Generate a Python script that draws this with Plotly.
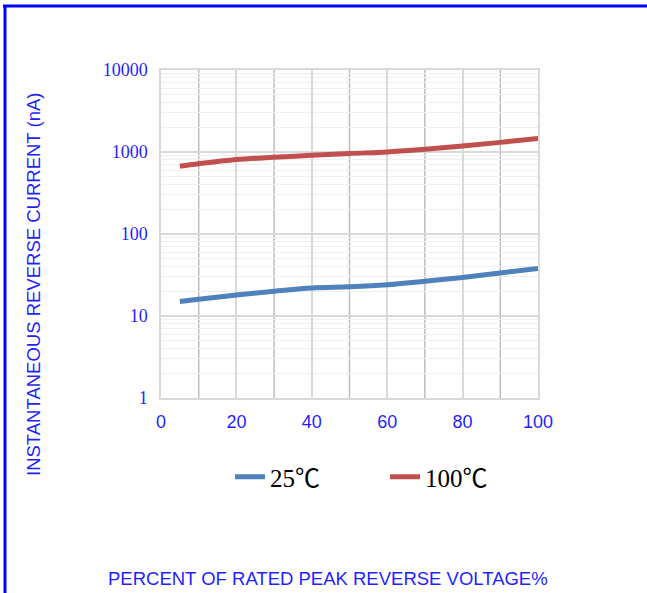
import plotly.graph_objects as go

x_vals = [5, 10, 20, 30, 40, 50, 60, 70, 80, 90, 100]
i_25c = [15, 16, 18, 20, 22, 22.7, 24, 26.5, 29.5, 33.5, 38]
i_100c = [670, 720, 810, 860, 910, 960, 1000, 1080, 1180, 1310, 1460]
y_ticks = [1, 10, 100, 1000, 10000]
y_ticklabels = ["1", "10", "100", "1000", "10000"]
x_ticks = [0, 20, 40, 60, 80, 100]
x_dark_grid = [10, 30, 50, 70, 90]

W, H = 647, 593
L, R, T, B = 161, 109, 70, 195
pw, ph = W - L - R, H - T - B

def px(xp):
    return (xp - L) / pw

def py(yp):
    return (H - B - yp) / ph

fig = go.Figure()
fig.add_trace(go.Scatter(x=x_vals, y=i_25c, mode="lines", name="25℃",
                         line=dict(color="#4F81BD", width=5, shape="spline")))
fig.add_trace(go.Scatter(x=x_vals, y=i_100c, mode="lines", name="100℃",
                         line=dict(color="#C0504D", width=5, shape="spline")))

fig.update_layout(
    width=W, height=H,
    margin=dict(l=L, r=R, t=T, b=B),
    paper_bgcolor="white", plot_bgcolor="white",
    showlegend=True,
    legend=dict(orientation="h", x=px(230), xanchor="left", y=py(477), yanchor="middle",
                font=dict(family="Liberation Serif, Noto Sans CJK SC", size=25, color="black"),
                entrywidth=110, entrywidthmode="pixels", tracegroupgap=0,
                bgcolor="rgba(0,0,0,0)"),
    xaxis=dict(range=[0, 100], tickvals=x_ticks, showgrid=True, gridcolor="#D9D9D9",
               gridwidth=1.5, zeroline=False,
               showline=True, linecolor="#D9D9D9", linewidth=1.5, mirror=True,
               tickfont=dict(family="Liberation Sans", size=18, color="#1F1FFF"),
               ticks="", ticklen=0, ticklabelstandoff=7),
    yaxis=dict(type="log", range=[0, 4], tickvals=y_ticks, ticktext=y_ticklabels,
               showgrid=True, gridcolor="#D9D9D9", gridwidth=1.5, zeroline=False,
               showline=True, linecolor="#D9D9D9", linewidth=1.5, mirror=True,
               tickfont=dict(family="Liberation Serif", size=18, color="#1F1FFF"),
               ticks="", ticklen=0, ticklabelstandoff=8,
               minor=dict(dtick="D1", showgrid=True, gridcolor="#EFEFEF", gridwidth=1, ticks="")),
)

for xv in x_dark_grid:
    fig.add_shape(type="line", xref="x", yref="paper", x0=xv, x1=xv, y0=0, y1=1,
                  layer="between", line=dict(color="#BDBDBD", width=1.5))

fig.add_annotation(text="INSTANTANEOUS REVERSE CURRENT (nA)", xref="paper", yref="paper",
                   x=px(33), y=py(285), xanchor="center", yanchor="middle",
                   textangle=-90, showarrow=False,
                   font=dict(family="Liberation Sans", size=18.5, color="#1F1FFF"))
fig.add_annotation(text="PERCENT OF RATED PEAK REVERSE VOLTAGE%", xref="paper", yref="paper",
                   x=px(328), y=py(578), xanchor="center", yanchor="middle", showarrow=False,
                   font=dict(family="Liberation Sans", size=18.5, color="#1F1FFF"))

fig.add_shape(type="line", xref="paper", yref="paper", x0=px(3), x1=px(647), y0=py(6), y1=py(6),
              line=dict(color="#0000FF", width=3))
fig.add_shape(type="line", xref="paper", yref="paper", x0=px(5), x1=px(5), y0=py(5), y1=py(593),
              line=dict(color="#0000FF", width=3))

fig.write_html("out.html", config={"displayModeBar": False},
               post_script="document.body.style.margin='0';")
